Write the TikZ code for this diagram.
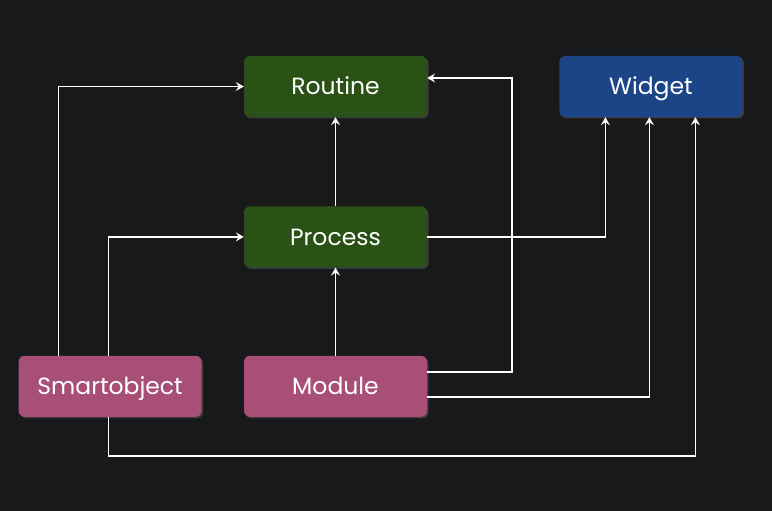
\documentclass[tikz,border=0pt]{standalone}
\usepackage{fontspec}
\setmainfont{Poppins}
\usepackage{tikz}
\usetikzlibrary{positioning, arrows.meta, shadows}

\definecolor{bgdark}{HTML}{18191B}
\definecolor{routinegreen}{HTML}{2A5216}
\definecolor{modpink}{HTML}{A84F78}
\definecolor{widgetblue}{HTML}{1C4588}

\tikzset{
  box/.style={rectangle, rounded corners=6pt, minimum width=183pt, minimum height=61pt,
    text=white, font=\fontsize{23.5}{27}\selectfont, inner sep=0pt,
    text height=19pt, text depth=2pt,
    drop shadow={opacity=0.35, shadow xshift=1.5pt, shadow yshift=-1.5pt}},
  link/.style={draw=white, line width=1.7pt, -{Stealth[length=8pt, width=9pt, inset=3pt]}},
}

\begin{document}
\begin{tikzpicture}[x=1pt, y=1pt]
  \fill[bgdark] (0,0) rectangle (772,-511);
  \useasboundingbox (0,0) rectangle (772,-511);

  \node[box, fill=routinegreen] (routine) at (335.5,-86.5) {Routine};
  \node[box, fill=widgetblue, right=132pt of routine] (widget) {Widget};
  \node[box, fill=routinegreen, below=89pt of routine] (process) {Process};
  \node[box, fill=modpink, below=88pt of process] (module) {Module};
  \node[box, fill=modpink, left=42pt of module] (smart) {Smartobject};

  \draw[link] (process.north) -- (routine.south);
  \draw[link] (module.north) -- (process.south);

  \draw[link] ([xshift=-51.5pt]smart.north) |- (routine.west);
  \draw[link] ([xshift=-1.5pt]smart.north) |- (process.west);
  \draw[link] ([xshift=-1.5pt]smart.south) -- ++(0,-39) -| ([xshift=44.5pt]widget.south);

  \draw[link] (process.east) -| ([xshift=-45.5pt]widget.south);
  \draw[link] ([yshift=14.5pt]module.east) -- ++(85,0) |- ([yshift=8.5pt]routine.east);
  \draw[link] ([yshift=-11pt]module.east) -| ([xshift=-1.5pt]widget.south);

\end{tikzpicture}
\end{document}
